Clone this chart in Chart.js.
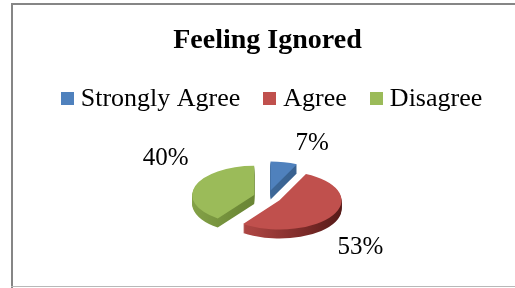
<!DOCTYPE html>
<html>
<head>
<meta charset="utf-8">
<script src="https://cdn.jsdelivr.net/npm/chart.js@4.4.1/dist/chart.umd.min.js"></script>
<style>
html,body{margin:0;padding:0;background:#fff;}
canvas{display:block;}
</style>
</head>
<body>
<canvas id="c" width="515" height="288"></canvas>
<script>
// ---- data ----
const chartTitle = 'Feeling Ignored';
const categories = ['Strongly Agree', 'Agree', 'Disagree'];
const percentValues = [7, 53, 40];

// ---- style ----
const sliceColors = ['#4F81BD', '#C0504D', '#9BBB59'];
const SERIF = '"Liberation Serif", "Times New Roman", serif';
const TILT = 0.47;      // vertical squash of the pie
const EXPLODE = 14;     // explosion distance (px, unsquashed)
const DEPTH = 9;        // pie thickness (px)
const LABEL_GAP = 30;
const labelNudge = [[21.5, -5.4], [1.7, 25.2], [-1, -22.8]];

function sideFill(ctx, i, cx, r) {
  const g = ctx.createLinearGradient(cx - r, 0, cx + r, 0);
  if (i === 0) { g.addColorStop(0, '#4a78ab'); g.addColorStop(1, '#2f5683'); }
  else if (i === 1) {
    g.addColorStop(0, '#b34a47'); g.addColorStop(0.2, '#a84340');
    g.addColorStop(0.58, '#7e2c2a'); g.addColorStop(0.9, '#561a18'); g.addColorStop(1, '#4e1614');
  } else { g.addColorStop(0, '#8aa84c'); g.addColorStop(0.5, '#6d8937'); g.addColorStop(1, '#5f7a2e'); }
  return g;
}

const pie3d = {
  id: 'pie3d',
  beforeDraw(chart) {
    const ctx = chart.ctx;
    ctx.save();
    ctx.fillStyle = '#ffffff';
    ctx.fillRect(0, 0, chart.width, chart.height);
    ctx.fillStyle = '#868686';
    ctx.fillRect(11, 3, 2, chart.height - 3);
    ctx.fillRect(11, 3, chart.width - 11, 2);
    ctx.fillStyle = '#b8b8b8';
    ctx.fillRect(11, chart.height - 2, chart.width - 11, 1);
    ctx.restore();
  },
  beforeDatasetDraw(chart, args) {
    const ctx = chart.ctx;
    const arcs = args.meta.data;
    if (!arcs.length) return;
    const cx = arcs[0].x, cy = arcs[0].y;
    const info = arcs.map((a, i) => {
      const m = (a.startAngle + a.endAngle) / 2;
      return { a, i, m, ex: Math.cos(m) * EXPLODE, ey: Math.sin(m) * EXPLODE * TILT };
    });
    const order = info.slice().sort((p, q) => Math.sin(p.m) - Math.sin(q.m));
    // sides
    for (const s of order) {
      for (let j = DEPTH; j >= 1; j--) {
        ctx.save();
        ctx.translate(s.ex, s.ey + j);
        ctx.translate(cx, cy); ctx.scale(1, TILT); ctx.translate(-cx, -cy);
        ctx.beginPath();
        ctx.moveTo(cx, cy);
        ctx.arc(cx, cy, s.a.outerRadius, s.a.startAngle, s.a.endAngle);
        ctx.closePath();
        ctx.fillStyle = sideFill(ctx, s.i, cx + s.ex, s.a.outerRadius);
        ctx.fill();
        ctx.restore();
      }
    }
    // tops
    for (const s of order) {
      ctx.save();
      ctx.translate(s.ex, s.ey);
      ctx.translate(cx, cy); ctx.scale(1, TILT); ctx.translate(-cx, -cy);
      s.a.draw(ctx);
      ctx.restore();
    }
    chart.$pieInfo = { cx, cy, info };
    return false;
  },
  afterDraw(chart) {
    const ctx = chart.ctx;
    const p = chart.$pieInfo;
    ctx.save();
    // data labels
    if (p) {
      ctx.font = '25px ' + SERIF;
      ctx.fillStyle = '#000';
      ctx.textAlign = 'center';
      ctx.textBaseline = 'middle';
      for (const s of p.info) {
        const L = s.a.outerRadius + LABEL_GAP;
        const x = p.cx + s.ex + Math.cos(s.m) * L + labelNudge[s.i][0];
        const y = p.cy + s.ey + Math.sin(s.m) * L * TILT + labelNudge[s.i][1];
        ctx.fillText(chart.data.datasets[0].data[s.i] + '%', x, y);
      }
    }
    // legend
    ctx.font = '26px ' + SERIF;
    ctx.textAlign = 'left';
    ctx.textBaseline = 'alphabetic';
    const box = 13, gapText = 7, gapItem = 23;
    const widths = chart.data.labels.map(t => ctx.measureText(t).width);
    let total = 0;
    widths.forEach((w, i) => { total += box + gapText + w + (i ? gapItem : 0); });
    let x = 271.5 - total / 2;
    const boxTop = 92, baseline = 106;
    chart.data.labels.forEach((t, i) => {
      ctx.fillStyle = sliceColors[i];
      ctx.fillRect(Math.round(x), boxTop, box, box);
      ctx.fillStyle = '#000';
      ctx.fillText(t, x + box + gapText, baseline);
      x += box + gapText + widths[i] + gapItem;
    });
    ctx.restore();
  }
};

new Chart(document.getElementById('c'), {
  type: 'pie',
  data: {
    labels: categories,
    datasets: [{
      data: percentValues,
      backgroundColor: sliceColors,
      borderWidth: 0,
      offset: 0,
      radius: 62
    }]
  },
  options: {
    responsive: false,
    animation: false,
    devicePixelRatio: 1,
    layout: { padding: { left: 20, right: 0, top: 0, bottom: 14 } },
    plugins: {
      legend: { display: false },
      tooltip: { enabled: false },
      title: {
        display: true,
        text: chartTitle,
        color: '#000',
        font: { family: SERIF, size: 28, weight: 'bold', lineHeight: 1.2 },
        padding: { top: 24, bottom: 62.4 }
      }
    }
  },
  plugins: [pie3d]
});
</script>
</body>
</html>
